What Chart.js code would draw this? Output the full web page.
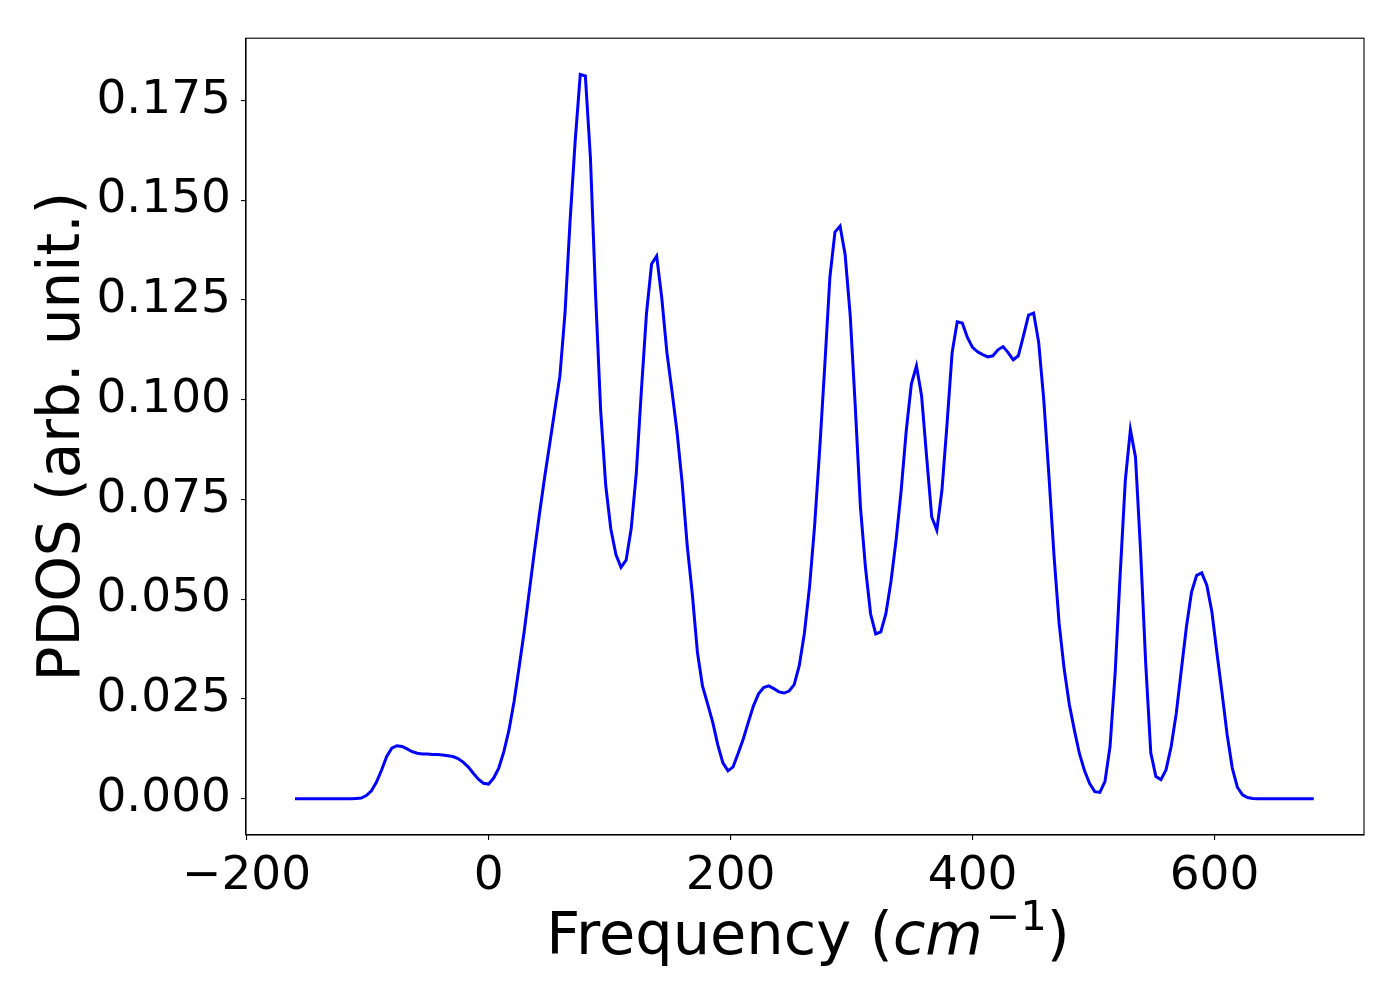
<!DOCTYPE html>
<html><head><meta charset="utf-8">
<script src="https://cdn.jsdelivr.net/npm/chart.js@4.4.0/dist/chart.umd.min.js"></script>
<style>html,body{margin:0;padding:0;background:#fff;}</style>
</head><body>
<canvas id="c" width="1400" height="1000"></canvas>
<script>
const freq = [
-160,-155.79,-151.58,-147.37,-143.16,-138.95,-134.74,-130.53,-126.32,-122.11,
-117.9,-113.69,-109.48,-105.27,-101.06,-96.85,-92.64,-88.43,-84.22,-80.01,
-75.8,-71.59,-67.38,-63.17,-58.96,-54.75,-50.54,-46.33,-42.12,-37.91,
-33.7,-29.49,-25.28,-21.07,-16.86,-12.65,-8.44,-4.23,-0.02,4.19,
8.4,12.61,16.82,21.03,25.24,29.45,33.66,37.87,42.08,46.29,
50.5,54.71,58.92,63.13,67.34,71.55,75.76,79.97,84.18,88.39,
92.6,96.81,101.02,105.23,109.44,113.65,117.86,122.07,126.28,130.49,
134.7,138.91,143.12,147.33,151.54,155.75,159.96,164.17,168.38,172.59,
176.8,181.01,185.22,189.43,193.64,197.85,202.06,206.27,210.48,214.69,
218.9,223.11,227.32,231.53,235.74,239.95,244.16,248.37,252.58,256.79,
261,265.21,269.42,273.63,277.84,282.05,286.26,290.47,294.68,298.89,
303.1,307.31,311.52,315.73,319.94,324.15,328.36,332.57,336.78,340.99,
345.2,349.41,353.62,357.83,362.04,366.25,370.46,374.67,378.88,383.09,
387.3,391.51,395.72,399.93,404.14,408.35,412.56,416.77,420.98,425.19,
429.4,433.61,437.82,442.03,446.24,450.45,454.66,458.87,463.08,467.29,
471.5,475.71,479.92,484.13,488.34,492.55,496.76,500.97,505.18,509.39,
513.6,517.81,522.02,526.23,530.44,534.65,538.86,543.07,547.28,551.49,
555.7,559.91,564.12,568.33,572.54,576.75,580.96,585.17,589.38,593.59,
597.8,602.01,606.22,610.43,614.64,618.85,623.06,627.27,631.48,635.69,
639.9,644.11,648.32,652.53,656.74,660.95,665.16,669.37,673.58,677.79,
682];
const pdos = [
0,0,0,0,0,0,0,0,0,0,
0,0,0.0001,0.0002,0.0008,0.0020,0.0042,0.0072,0.0106,0.0127,
0.0133,0.0131,0.0125,0.0118,0.0114,0.0112,0.0112,0.0111,0.0111,0.0110,
0.0108,0.0106,0.0101,0.0092,0.0080,0.0064,0.0049,0.0039,0.0037,0.0052,
0.0077,0.0118,0.0172,0.0243,0.0330,0.0420,0.0520,0.0620,0.0715,0.0805,
0.0889,0.0974,0.1059,0.1216,0.1448,0.1648,0.1815,0.1811,0.1605,0.1265,
0.0974,0.0785,0.0676,0.0612,0.0580,0.0598,0.0677,0.0816,0.1023,0.1216,
0.1340,0.1360,0.1255,0.1119,0.1022,0.0919,0.0792,0.0634,0.0512,0.0367,
0.0282,0.0238,0.0192,0.0135,0.0090,0.0070,0.0080,0.0114,0.0150,0.0192,
0.0233,0.0263,0.0279,0.0283,0.0276,0.0268,0.0265,0.0270,0.0286,0.0334,
0.0415,0.0530,0.0683,0.0875,0.1085,0.1306,0.1420,0.1435,0.1363,0.1210,
0.0980,0.0731,0.0578,0.0463,0.0413,0.0418,0.0464,0.0545,0.0648,0.0773,
0.0923,0.1039,0.1085,0.1010,0.0856,0.0706,0.0673,0.0773,0.0939,0.1118,
0.1195,0.1192,0.1156,0.1131,0.1120,0.1113,0.1107,0.1110,0.1125,0.1133,
0.1118,0.1100,0.1110,0.1160,0.1212,0.1217,0.1143,0.0998,0.0810,0.0610,
0.0440,0.0325,0.0237,0.0172,0.0113,0.0070,0.0038,0.0018,0.0016,0.0043,
0.0131,0.0314,0.0564,0.0798,0.0925,0.0856,0.0620,0.0340,0.0115,0.0056,
0.0048,0.0073,0.0131,0.0214,0.0323,0.0431,0.0518,0.0560,0.0566,0.0535,
0.0468,0.0364,0.0264,0.0160,0.0077,0.0029,0.0010,0.0003,0.0001,0,
0,0,0,0,0,0,0,0,0,0,
0];
const xTicks = [-200, 0, 200, 400, 600];
const yTicks = [0, 0.025, 0.05, 0.075, 0.1, 0.125, 0.15, 0.175];
const yTitle = 'PDOS (arb. unit.)';
const xTitleParts = ['Frequency (', 'cm', '\u22121', ')'];

const FONT = '"DejaVu Sans", "Liberation Sans", sans-serif';

const framePlugin = {
  id: 'frame',
  afterDraw(chart) {
    const {ctx, chartArea: a} = chart;
    ctx.save();
    ctx.strokeStyle = '#000';
    ctx.lineWidth = 1.1;
    ctx.strokeRect(a.left, a.top, a.right - a.left, a.bottom - a.top);
    // y title
    ctx.fillStyle = '#000';
    ctx.font = '58px ' + FONT;
    ctx.textAlign = 'center';
    ctx.textBaseline = 'alphabetic';
    ctx.save();
    ctx.translate(79, (a.top + a.bottom) / 2);
    ctx.rotate(-Math.PI / 2);
    ctx.fillText(yTitle, 0, 0);
    ctx.restore();
    // x title with italic + superscript
    const fs = 59, sfs = fs * 0.7;
    const fonts = [fs + 'px ' + FONT, 'italic ' + fs + 'px ' + FONT, sfs + 'px ' + FONT, fs + 'px ' + FONT];
    const dys = [0, 0, -fs * 0.4, 0];
    const gaps = [0, 0, 3, 0];
    let widths = xTitleParts.map((t, i) => { ctx.font = fonts[i]; return ctx.measureText(t).width; });
    const total = widths.reduce((s, w) => s + w, 0) + gaps.reduce((s, g) => s + g, 0);
    let x = (a.left + a.right) / 2 - total / 2 + 3;
    const base = 954;
    ctx.textAlign = 'left';
    xTitleParts.forEach((t, i) => {
      x += gaps[i];
      ctx.font = fonts[i];
      ctx.fillText(t, x, base + dys[i]);
      x += widths[i];
    });
    ctx.restore();
  }
};

const fmtX = v => (v < 0 ? '\u2212' + Math.abs(v) : String(v));

new Chart(document.getElementById('c'), {
  type: 'line',
  data: {
    datasets: [{
      data: freq.map((x, i) => ({x: x, y: pdos[i]})),
      borderColor: '#0000ff',
      borderWidth: 3,
      pointRadius: 0,
      tension: 0,
      fill: false
    }]
  },
  options: {
    responsive: false,
    animation: false,
    devicePixelRatio: 1,
    layout: {padding: {left: 0, right: 36, top: 38, bottom: 0}},
    plugins: {legend: {display: false}, tooltip: {enabled: false}},
    scales: {
      x: {
        type: 'linear',
        min: -200.5, max: 723.5,
        afterBuildTicks: s => { s.ticks = xTicks.map(v => ({value: v})); },
        afterFit: s => { s.height = 165; },
        grid: {drawOnChartArea: false, drawTicks: true, tickLength: 5, color: '#000', lineWidth: 1.1},
        border: {display: true, color: '#000', width: 1.1},
        ticks: {font: {family: FONT, size: 47}, color: '#000', padding: 9, maxRotation: 0, autoSkip: false, callback: v => fmtX(v)}
      },
      y: {
        type: 'linear',
        min: -0.00907, max: 0.19057,
        afterBuildTicks: s => { s.ticks = yTicks.map(v => ({value: v})); },
        afterFit: s => { s.width = 246; },
        grid: {drawOnChartArea: false, drawTicks: true, tickLength: 5, color: '#000', lineWidth: 1.1},
        border: {display: true, color: '#000', width: 1.1},
        ticks: {font: {family: FONT, size: 47}, color: '#000', padding: 10, autoSkip: false, callback: v => v.toFixed(3)}
      }
    }
  },
  plugins: [framePlugin]
});
</script>
</body></html>
